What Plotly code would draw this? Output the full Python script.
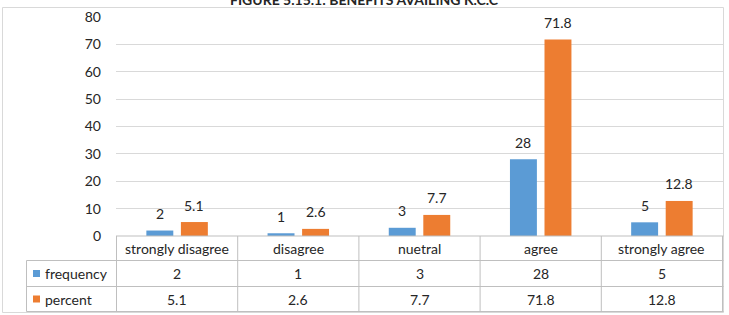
import plotly.graph_objects as go

categories = ["strongly disagree", "disagree", "nuetral", "agree", "strongly agree"]
frequency = [2, 1, 3, 28, 5]
percent = [5.1, 2.6, 7.7, 71.8, 12.8]
series_names = ["frequency", "percent"]
colors = ["#5B9BD5", "#ED7D31"]
title = "FIGURE 5.15.1: BENEFITS AVAILING K.C.C"
y_ticks = list(range(0, 90, 10))

W, H = 729, 315
L, R, T, B = 116, 6, 17, 79
PW, PH = W - L - R, H - T - B
FONT = "Lato, Carlito, Calibri, sans-serif"
TXT = "#262626"
TABLE = "#BFBFBF"


def px(x):
    return (x - L) / PW


def py(y):
    return (H - B - y) / PH


fig = go.Figure()
series = [frequency, percent]
for name, vals, col in zip(series_names, series, colors):
    fig.add_trace(go.Bar(x=categories, y=vals, name=name, marker_color=col,
                         marker_line_width=0, showlegend=False))

shapes = []
annotations = []

# bar value labels
offsets = [-17.25, 17.25]
for vals, off in zip(series, offsets):
    for c, v in zip(categories, vals):
        annotations.append(dict(x=c, y=v, xref="x", yref="y", text=str(v),
                                showarrow=False, xshift=off, yshift=17,
                                yanchor="middle",
                                font=dict(family=FONT, size=14, color=TXT)))

# outer chart border
shapes.append(dict(type="rect", xref="paper", yref="paper",
                   x0=px(2.5), x1=px(723.5), y0=py(312.5), y1=py(7.5),
                   line=dict(color="#D9D9D9", width=1), layer="below"))

# data table grid
row_lines = [236, 260.5, 286.5, 311.5]
for i, yl in enumerate(row_lines):
    x0 = px(116) if i == 0 else px(26.5)
    shapes.append(dict(type="line", xref="paper", yref="paper",
                       x0=x0, x1=px(723.5), y0=py(yl), y1=py(yl),
                       line=dict(color=TABLE, width=1)))
shapes.append(dict(type="line", xref="paper", yref="paper",
                   x0=px(26.5), x1=px(26.5), y0=py(260.5), y1=py(311.5),
                   line=dict(color=TABLE, width=1)))
for k in range(len(categories) + 1):
    shapes.append(dict(type="line", xref="x", yref="paper",
                       x0=k - 0.5, x1=k - 0.5, y0=py(236), y1=py(311.5),
                       line=dict(color=TABLE, width=1)))

# table text
row_centers = [248, 273.5, 299]
for c in categories:
    annotations.append(dict(x=c, y=py(row_centers[0]), xref="x", yref="paper",
                            text=c, showarrow=False, yanchor="middle",
                            font=dict(family=FONT, size=14, color=TXT)))
for r, (name, vals, col) in enumerate(zip(series_names, series, colors)):
    yc = row_centers[r + 1]
    for c, v in zip(categories, vals):
        annotations.append(dict(x=c, y=py(yc), xref="x", yref="paper",
                                text=str(v), showarrow=False, yanchor="middle",
                                font=dict(family=FONT, size=14, color=TXT)))
    shapes.append(dict(type="rect", xref="paper", yref="paper",
                       x0=px(33), x1=px(40), y0=py(yc + 3.5), y1=py(yc - 3.5),
                       fillcolor=col, line=dict(width=0)))
    annotations.append(dict(x=px(42.5), y=py(yc), xref="paper", yref="paper",
                            text=name, showarrow=False, xanchor="left",
                            yanchor="middle",
                            font=dict(family=FONT, size=14, color=TXT)))

# title (partly cut off at the top, as in the reference)
annotations.append(dict(x=px(364), y=py(-0.5), xref="paper", yref="paper",
                        text="<b>" + title + "</b>", showarrow=False,
                        yanchor="middle",
                        font=dict(family=FONT, size=14, color=TXT)))

fig.update_layout(
    width=W, height=H,
    margin=dict(l=L, r=R, t=T, b=B, pad=0),
    paper_bgcolor="white", plot_bgcolor="white",
    barmode="group", bargap=0.43, bargroupgap=0.22,
    shapes=shapes, annotations=annotations,
    xaxis=dict(showticklabels=False, showgrid=False, zeroline=False,
               showline=False, ticks=""),
    yaxis=dict(range=[0, 80], tickvals=y_ticks, showgrid=True,
               gridcolor="#D9D9D9", gridwidth=1, zeroline=False,
               showline=False, ticks="", ticklabelstandoff=14,
               tickfont=dict(family=FONT, size=14, color=TXT)),
)

fig.write_html("out.html")
